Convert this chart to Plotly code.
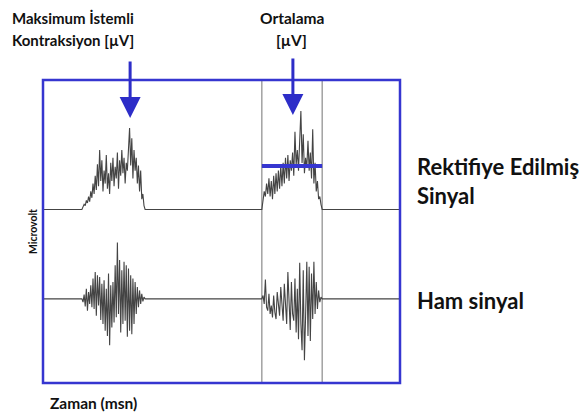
import numpy as np
import plotly.graph_objects as go

# ---- data (time in ms, amplitude in µV) ----
burst1_start, burst1_end = 109, 286
burst2_start, burst2_end = 613, 782
time_end = 1000

rect1 = [0, 2, 4, 3, 7, 5, 10, 6, 14, 9,
         20, 12, 26, 15, 35, 18, 46, 22, 38, 14,
         30, 20, 42, 16, 28, 12, 36, 22, 40, 18,
         33, 24, 44, 16, 38, 26, 46, 28, 40, 20,
         36, 30, 50, 63, 34, 55, 24, 46, 30, 40,
         20, 34, 14, 30, 8, 12, 3, 0]
rect2 = [0, 6, 14, 10, 20, 12, 24, 10, 22, 8,
         26, 12, 28, 14, 30, 16, 34, 18, 36, 20,
         40, 24, 42, 22, 38, 30, 44, 26, 60, 34,
         46, 30, 50, 76, 36, 58, 28, 40, 32, 53,
         30, 44, 24, 62, 20, 36, 14, 22, 8, 10,
         4, 0]
raw1 = [0, -4, 5, -9, 12, -14, 8, -6, 16, -10,
        24, -12, 32, -20, 28, -8, 26, -25, 18, -30,
        22, -38, 12, -44, 30, -55, 16, -34, 20, -28,
        40, -22, 67, -18, 46, -40, 34, -30, 44, -26,
        40, -45, 36, -38, 28, -42, 24, -30, 20, -18,
        14, -10, 10, -6, 6, -3, 2, 0]
raw2 = [0, 4, -6, 23, -10, -14, 6, -18, -8, -22,
        4, -16, -24, 8, -12, -20, 14, -10, -26, 18,
        -14, -30, 32, -8, -37, 20, -18, -26, 24, -40,
        12, -48, 43, -30, -61, 34, -73, -20, 44, -44,
        38, -50, 30, -24, 44, -18, 20, -12, 10, -4,
        2, 0]
mean_value = 33.6
mvc_time, mean_arrow_time = 244, 700

def series(v1, v2):
    t1 = np.linspace(burst1_start, burst1_end, len(v1))
    t2 = np.linspace(burst2_start, burst2_end, len(v2))
    x = np.concatenate([[0], t1, t2, [time_end]])
    y = np.concatenate([[0], v1, v2, [0]])
    return x, y

BLUE = "#3636d0"
ARROW = "#2d2dc8"
LINE = "#444444"
FONT = "Lato"

fig = go.Figure()
xr, yr = series(rect1, rect2)
xw, yw = series(raw1, raw2)
fig.add_trace(go.Scatter(x=xw, y=yw, mode="lines", line=dict(color=LINE, width=1.1),
                         yaxis="y", showlegend=False, hoverinfo="skip"))
fig.add_trace(go.Scatter(x=xr, y=yr, mode="lines", line=dict(color=LINE, width=1.1),
                         yaxis="y2", showlegend=False, hoverinfo="skip"))
fig.add_trace(go.Scatter(x=[burst2_start, burst2_end], y=[mean_value, mean_value], mode="lines",
                         line=dict(color=BLUE, width=4), yaxis="y2",
                         showlegend=False, hoverinfo="skip"))

for t in (burst2_start, burst2_end):
    fig.add_shape(type="line", xref="x", yref="paper", x0=t, x1=t, y0=0, y1=1,
                  line=dict(color="#8a8a8a", width=1.2), layer="below")

fig.add_shape(type="rect", xref="paper", yref="paper", x0=0, x1=1, y0=0, y1=1,
              line=dict(color=BLUE, width=2.5))

for t, ytip in ((mvc_time, 70.7), (mean_arrow_time, 73)):
    fig.add_annotation(x=t, y=ytip, xref="x", yref="y2", ax=0, ay=-58, axref="pixel", ayref="pixel",
                       showarrow=True, arrowhead=2, arrowsize=1.4, arrowwidth=3,
                       arrowcolor=ARROW, text="")

def label(text, x, y, size, xanchor="left", angle=0):
    fig.add_annotation(x=x, y=y, xref="paper", yref="paper", text=f"<b>{text}</b>",
                       showarrow=False, xanchor=xanchor, yanchor="middle", textangle=angle,
                       font=dict(family=FONT, size=size, color="#111111"))

label("Maksimum İstemli", -0.0924, 1.205, 15)
label("Kontraksiyon [µV]", -0.0924, 1.132, 15)
label("Ortalama", 0.700, 1.205, 15.5, xanchor="center")
label("[µV]", 0.695, 1.132, 15.5, xanchor="center")
label("Rektifiye Edilmiş", 1.042, 0.713, 22)
label("Sinyal", 1.042, 0.620, 22)
label("Ham sinyal", 1.042, 0.271, 22)
label("Zaman (msn)", 0.014, -0.066, 15.5)
label("Microvolt", -0.028, 0.498, 10.5, xanchor="center", angle=-90)

axis_off = dict(showgrid=False, zeroline=False, showticklabels=False, ticks="", showline=False)
fig.update_layout(
    width=587, height=413,
    margin=dict(l=35, r=195, t=72, b=38),
    paper_bgcolor="white", plot_bgcolor="white",
    xaxis=dict(range=[0, time_end], **axis_off),
    yaxis=dict(range=[-100, 260], **axis_off),
    yaxis2=dict(range=[-134, 100], overlaying="y", **axis_off),
    showlegend=False,
)
fig.write_html("out.html")
